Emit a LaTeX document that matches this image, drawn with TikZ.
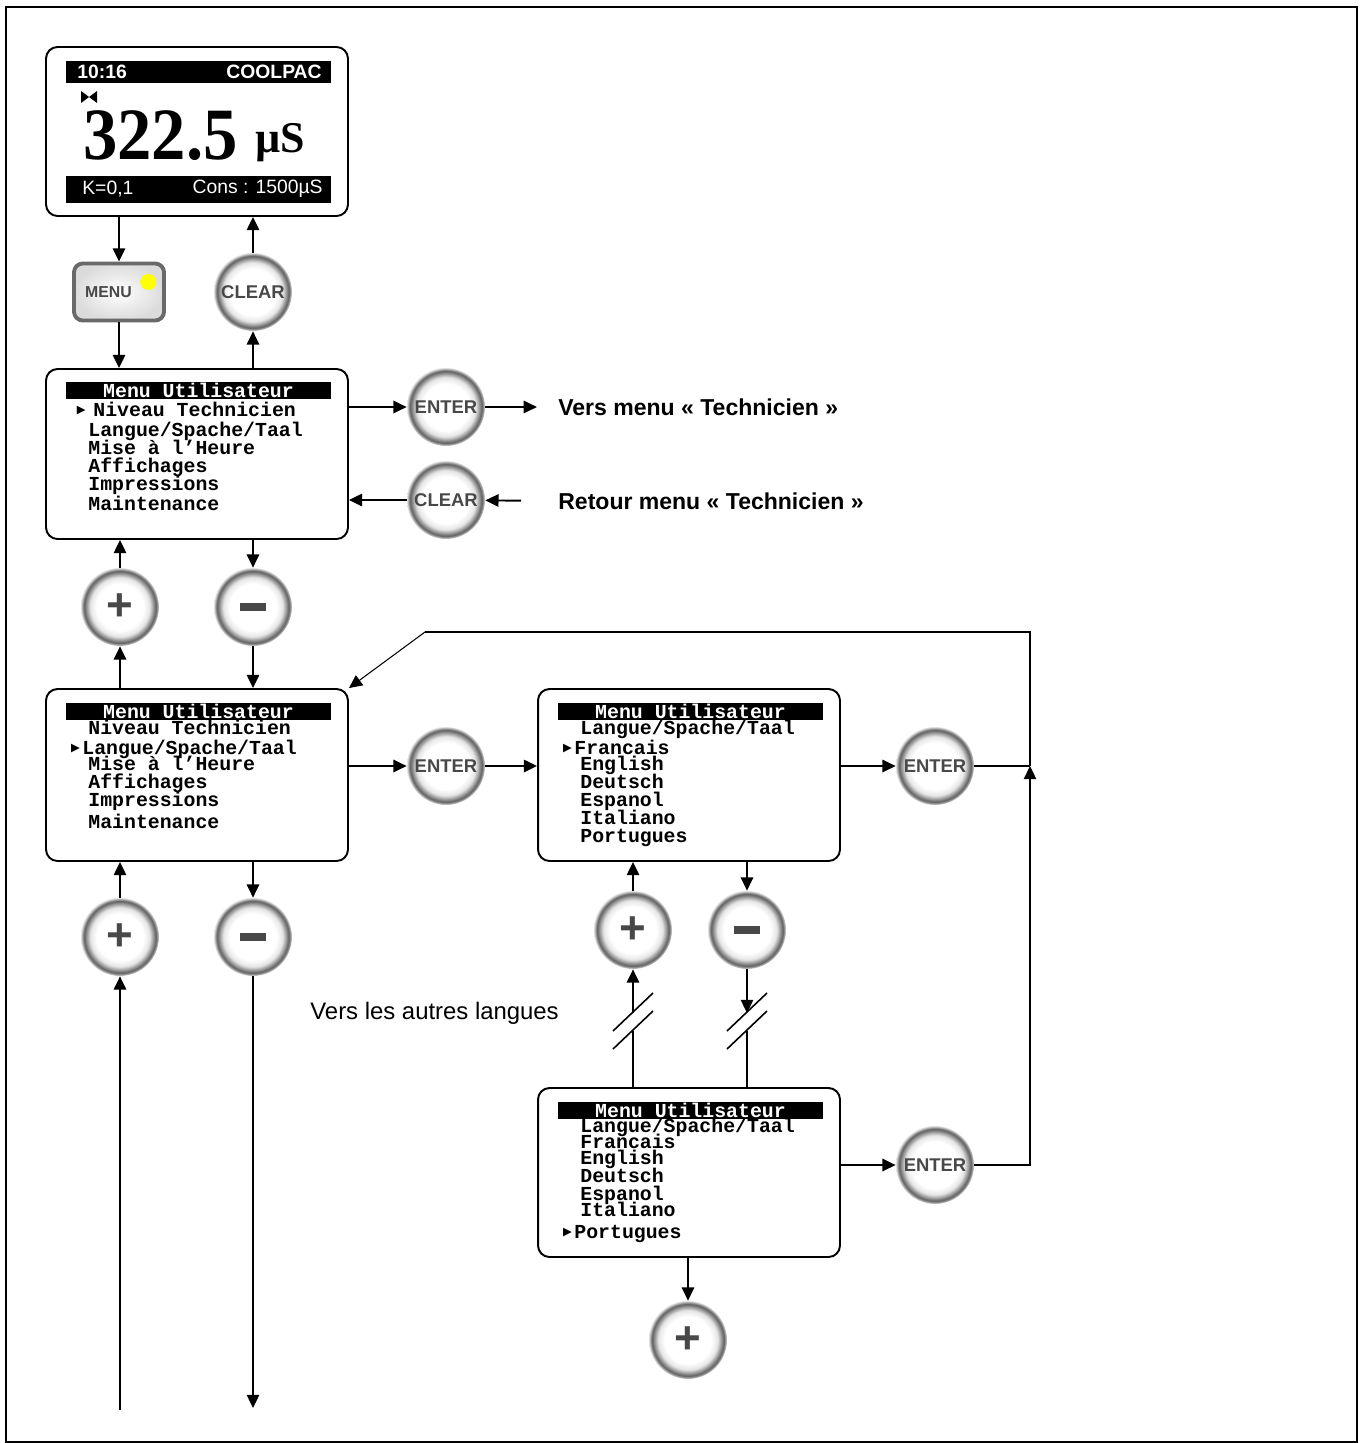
\documentclass[tikz,border=0pt]{standalone}
\usepackage{fontspec}
\setmainfont{Liberation Sans}
\newfontfamily\lcdfont{Liberation Mono}
\newfontfamily\numfont{Liberation Serif}
\newfontfamily\symfont{DejaVu Sans}
\usetikzlibrary{arrows.meta,positioning,calc}
\definecolor{keytext}{RGB}{72,72,72}
\definecolor{keyrim}{RGB}{105,105,105}
\definecolor{ledyellow}{RGB}{255,255,0}
\pgfdeclareradialshading{keyshade}{\pgfpoint{0bp}{0bp}}{color(0bp)=(white); color(15bp)=(white); color(19bp)=(black!10); color(21.5bp)=(black!42); color(23bp)=(black!62); color(24bp)=(black!40); color(25bp)=(black!12); color(50bp)=(white)}
\newcommand\keyplus{{\fontsize{26}{26}\selectfont\bfseries +}}
\newcommand\keyminus{\rule{15pt}{4.5pt}}

\begin{document}
\begin{tikzpicture}[x=0.02cm, y=-0.02cm,
    >={Triangle[length=7.5pt,width=7pt]},
    flow/.style={->, line width=1.1pt},
    wire/.style={line width=1.1pt},
    screen/.style={draw, line width=1.1pt, rounded corners=6.5pt, minimum width=6.04cm, minimum height=#1, inner sep=0pt},
    screen/.default=3.4cm,
    lcdbar/.style={fill=black, minimum width=5.3cm, minimum height=0.44cm, inner sep=0pt},
    barlabel/.style={text=white, inner sep=0pt, font=\fontsize{11}{11}\selectfont},
    titlebar/.style={fill=black, text=white, minimum width=5.3cm, minimum height=0.34cm, inner sep=0pt, font=\lcdfont\bfseries\fontsize{11.3}{11.3}\selectfont},
    item/.style={anchor=west, inner sep=0pt, text height=6.8pt, text depth=0pt, font=\lcdfont\bfseries\fontsize{11.3}{11.3}\selectfont},
    marker/.style={inner sep=0pt, font=\symfont\fontsize{6.5}{6.5}\selectfont},
    key/.style={circle, minimum size=1.56cm, inner sep=0pt, shading=keyshade, text=keytext, font=\bfseries\fontsize{10.5}{10.5}\selectfont},
    menukey/.style={rectangle, rounded corners=5pt, minimum width=1.8cm, minimum height=1.14cm, draw=keyrim, line width=2.2pt, inner color=white, outer color=black!14, text=keytext, font=\bfseries\fontsize{9}{9}\selectfont},
    led/.style={circle, fill=ledyellow, minimum size=0.32cm, inner sep=0pt},
    note/.style={anchor=west, inner sep=0pt, font=\fontsize{13.6}{13.6}\selectfont},
    heading/.style={note, font=\bfseries\fontsize{13.1}{13.1}\selectfont},
    breakmark/.style={line width=0.9pt}
  ]
    \useasboundingbox (0,0) rectangle (1361,1443);
    \draw[line width=1pt] (6,7) rectangle (1357,1442);

    % Main display
    \node[screen=3.38cm] (disp) at (197,131.5) {};
    \node[lcdbar] (dispTop) at (198.5,72) {};
    \node[lcdbar, minimum height=0.54cm] (dispBot) at (198.5,189.5) {};
    \node[barlabel, anchor=west, font=\bfseries\fontsize{11}{11}\selectfont] (clock) at (77,72) {10:16};
    \node[barlabel, anchor=east, font=\bfseries\fontsize{11}{11}\selectfont] (brand) at (322,72) {COOLPAC};
    \node[barlabel, anchor=west] (kfactor) at (82,189) {K=0,1};
    \node[barlabel, anchor=east] (setpoint) at (323,189) {Cons : 1500µS};
    \fill (81,91) -- (89,97) -- (81,103) -- cycle (97,91) -- (89,97) -- (97,103) -- cycle;
    \node[anchor=base west, inner sep=0pt, font=\numfont\bfseries\fontsize{42}{42}\selectfont] (reading) at (83,159) {\scalebox{0.93}[1]{322.5}};
    \node[anchor=base west, inner sep=0pt, font=\numfont\bfseries\fontsize{25}{25}\selectfont] (unit) at (255,153) {µS};

    % Keys under the display
    \node[menukey] (menukey) at (119,292) {MENU\hspace*{12pt}};
    \node[led] (menuled) at (148,282) {};
    \node[key] (clear1) at (253,292) {CLEAR};

    % Menu 1
    \node[screen] (menu1) at (197,454) {};
    \node[titlebar] (menu1title) at (198.5,390.5) {Menu Utilisateur};
    \node[item] (menu1sel) at (93,411) {Niveau Technicien};
    \node[marker, left=4pt of menu1sel] (menu1mark) {▶};
    \foreach \t/\y [count=\i] in {{Langue/Spache/Taal}/431, {Mise à l’Heure}/449, Affichages/467, Impressions/485, Maintenance/505}
      \node[item] (menu1item\i) at (88,\y) {\t};

    \node[key] (enter1) at (446,407) {ENTER};
    \node[key] (clear2) at (446,500) {CLEAR};
    \node[heading] (versTech) at (558,407) {Vers menu « Technicien »};
    \node[heading] (retourTech) at (558,501) {Retour menu « Technicien »};

    \node[key] (plus1) at (120,607) {\keyplus};
    \node[key] (minus1) at (253,607) {\keyminus};

    % Menu 2
    \node[screen=3.44cm] (menu2) at (197,775) {};
    \node[item] (menu2top) at (88,729) {Niveau Technicien};
    \node[titlebar] (menu2title) at (198.5,711.5) {Menu Utilisateur};
    \node[item] (menu2sel) at (82,749) {Langue/Spache/Taal};
    \node[marker, left=1pt of menu2sel] (menu2mark) {▶};
    \foreach \t/\y [count=\i] in {{Mise à l’Heure}/765, Affichages/783, Impressions/801, Maintenance/823}
      \node[item] (menu2item\i) at (88,\y) {\t};

    \node[key] (enter2) at (446,766) {ENTER};
    \node[key] (plus2) at (120,937) {\keyplus};
    \node[key] (minus2) at (253,937) {\keyminus};

    % Menu 3
    \node[screen=3.44cm] (menu3) at (689,775) {};
    \node[item] (menu3top) at (580,729) {Langue/Spache/Taal};
    \node[titlebar] (menu3title) at (690.5,711.5) {Menu Utilisateur};
    \node[item] (menu3sel) at (574,749) {Francais};
    \node[marker, left=1pt of menu3sel] (menu3mark) {▶};
    \foreach \t/\y [count=\i] in {English/765, Deutsch/783, Espanol/801, Italiano/819, Portugues/837}
      \node[item] (menu3item\i) at (580,\y) {\t};

    \node[key] (enter3) at (935,766) {ENTER};
    \node[key] (plus3) at (633,930) {\keyplus};
    \node[key] (minus3) at (747,930) {\keyminus};
    \node[note] (autres) at (310,1013) {Vers les autres langues};

    % Menu 4
    \node[screen=3.38cm] (menu4) at (689,1172.5) {};
    \foreach \t/\y [count=\i] in {{Langue/Spache/Taal}/1127, Francais/1143, English/1159, Deutsch/1177, Espanol/1195, Italiano/1211}
      \node[item] (menu4item\i) at (580,\y) {\t};
    \node[titlebar] (menu4title) at (690.5,1110.5) {Menu Utilisateur};
    \node[item] (menu4sel) at (574,1233) {Portugues};
    \node[marker, left=1pt of menu4sel] (menu4mark) {▶};

    \node[key] (enter4) at (935,1165) {ENTER};
    \node[key] (plus4) at (688,1340) {\keyplus};

    % Free ends
    \coordinate (join) at (1030,766);
    \coordinate (loopR) at (1030,632);
    \coordinate (loopL) at (425,632);
    \coordinate (brkL1) at (633,1013);
    \coordinate (brkL2) at (633,1031);
    \coordinate (brkR1) at (747,1013);
    \coordinate (brkR2) at (747,1031);
    \coordinate (exitUp) at (120,1410);
    \coordinate (exitDown) at (253,1408);

    % Connections
    \draw[flow] (disp.south -| menukey) -- (menukey.north);
    \draw[flow] (menukey.south) -- (menukey.south |- menu1.north);
    \draw[flow] (clear1) -- (clear1 |- disp.south);
    \draw[flow] (clear1 |- menu1.north) -- (clear1);

    \draw[flow] (menu1.east |- enter1) -- (enter1);
    \draw[flow, shorten >=12pt] (enter1) -- (versTech.west);
    \draw[flow, shorten <=21pt] (retourTech.west) -- (clear2);
    \draw[flow] (clear2) -- (menu1.east |- clear2);

    \draw[flow] (plus1) -- (plus1 |- menu1.south);
    \draw[flow] (minus1 |- menu1.south) -- (minus1);
    \draw[flow] (plus1 |- menu2.north) -- (plus1);
    \draw[flow] (minus1) -- (minus1 |- menu2.north);

    \draw[flow] (menu2.east |- enter2) -- (enter2);
    \draw[flow] (enter2) -- (menu3.west |- enter2);
    \draw[flow] (plus2) -- (plus2 |- menu2.south);
    \draw[flow] (minus2 |- menu2.south) -- (minus2);
    \draw[flow] (exitUp) -- (plus2);
    \draw[flow] (minus2) -- (exitDown);

    \draw[flow] (menu3.east |- enter3) -- (enter3);
    \draw[wire] (enter3) -- (join);
    \draw[flow] (enter4) -- (join |- enter4) -- (join);
    \draw[wire] (join) -- (loopR) -- (loopL);
    \draw[->, line width=0.6pt] (loopL) -- (menu2.north east);

    \draw[flow] (plus3) -- (plus3 |- menu3.south);
    \draw[flow] (minus3 |- menu3.south) -- (minus3);
    \draw[flow] (brkL1) -- (plus3);
    \draw[wire] (brkL2 |- menu4.north) -- (brkL2);
    \draw[flow] (minus3) -- (brkR1);
    \draw[wire] (brkR2) -- (brkR2 |- menu4.north);
    \foreach \b in {brkL1, brkL2, brkR1, brkR2}
      \draw[breakmark] ($(\b)+(-20,18)$) -- ($(\b)+(20,-20)$);

    \draw[flow] (menu4.east |- enter4) -- (enter4);
    \draw[flow] (menu4.south -| plus4) -- (plus4);
  \end{tikzpicture}
\end{document}
